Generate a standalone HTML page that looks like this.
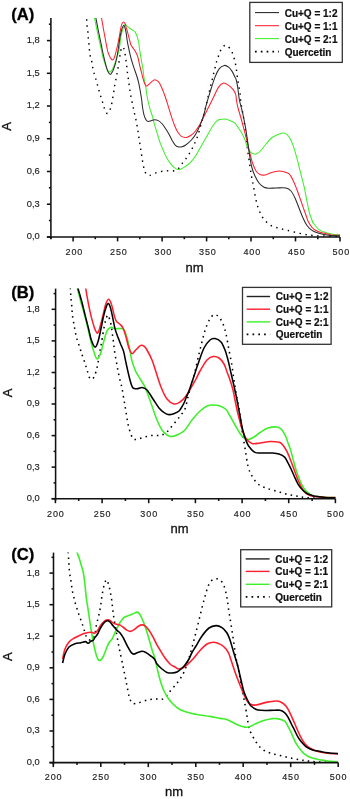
<!DOCTYPE html><html><head><meta charset="utf-8"><style>html,body{margin:0;padding:0;background:#fff;}svg{display:block;}text{font-family:"Liberation Sans", sans-serif;}svg{will-change:transform;}</style></head><body>
<svg width="350" height="799" viewBox="0 0 350 799">
<rect width="350" height="799" fill="#fff"/>
<clipPath id="cA"><rect x="50.9" y="18.0" width="290.2" height="218.9"/></clipPath>
<g clip-path="url(#cA)" fill="none" stroke-linejoin="round">
<path d="M86.5,15.0C86.5,15.8 86.6,18.2 86.7,20.0C86.8,21.8 86.9,24.0 87.1,26.0C87.3,28.0 87.7,30.0 87.9,32.0C88.1,34.0 88.1,35.9 88.3,37.9C88.5,39.9 88.7,41.9 88.9,43.9C89.1,45.9 89.2,47.7 89.4,49.7C89.6,51.7 89.8,53.8 90.2,55.7C90.6,57.6 91.3,59.1 91.7,61.0C92.1,62.9 92.2,65.0 92.6,67.0C93.0,69.0 93.5,71.1 94.0,73.0C94.5,74.9 95.1,76.6 95.7,78.6C96.3,80.5 96.9,82.7 97.4,84.7C98.0,86.7 98.5,88.8 99.0,90.7C99.5,92.7 100.1,94.5 100.7,96.4C101.3,98.4 102.0,100.5 102.6,102.4C103.2,104.3 103.5,106.2 104.3,108.0C105.0,109.8 106.2,113.0 107.1,113.5C108.0,114.0 108.9,112.1 109.5,111.0C110.1,109.9 110.5,108.3 110.9,107.0C111.3,105.7 111.6,104.6 111.9,102.9C112.2,101.2 112.6,99.0 112.9,97.0C113.2,95.0 113.6,93.0 113.9,91.0C114.2,89.0 114.4,87.3 114.7,85.3C115.0,83.3 115.6,81.0 116.0,79.1C116.4,77.1 116.7,75.5 117.0,73.6C117.3,71.7 117.8,69.5 118.1,67.6C118.4,65.7 118.7,63.9 119.0,62.0C119.3,60.1 119.6,57.9 119.9,56.0C120.2,54.1 120.4,52.0 120.8,50.5C121.2,49.0 122.0,47.4 122.5,47.0C123.0,46.6 123.3,47.0 123.7,48.1C124.1,49.2 124.6,51.8 125.0,53.7C125.4,55.6 125.6,57.7 125.9,59.7C126.2,61.7 126.5,63.8 126.7,65.7C126.9,67.7 127.1,69.5 127.3,71.4C127.5,73.3 127.8,75.1 128.1,77.0C128.4,78.9 128.6,81.0 128.9,83.0C129.2,85.0 129.4,86.9 129.7,88.9C130.0,90.9 130.2,93.0 130.6,95.0C131.0,97.0 131.5,99.0 131.9,101.0C132.3,103.0 132.7,104.9 133.1,106.9C133.5,108.9 134.0,111.0 134.4,112.9C134.8,114.8 135.3,116.5 135.7,118.4C136.1,120.3 136.4,122.4 136.8,124.4C137.2,126.4 137.6,128.2 137.9,130.2C138.2,132.2 138.4,134.2 138.7,136.2C139.0,138.2 139.3,140.0 139.6,142.0C139.9,144.0 140.2,146.1 140.5,148.0C140.8,149.9 141.1,151.6 141.4,153.5C141.7,155.4 142.0,157.6 142.3,159.6C142.6,161.6 143.0,163.6 143.4,165.6C143.8,167.6 144.3,170.1 144.9,171.6C145.5,173.1 146.2,173.8 147.0,174.5C147.8,175.2 148.3,175.7 149.5,175.5C150.7,175.3 152.5,174.2 154.3,173.5C156.1,172.8 158.4,172.0 160.3,171.6C162.2,171.2 164.1,170.9 166.0,170.8C167.9,170.7 170.1,171.2 172.0,171.0C173.9,170.8 175.9,170.7 177.7,169.3C179.5,168.0 181.1,164.9 182.6,162.9C184.1,160.9 185.6,159.3 186.9,157.4C188.2,155.5 189.6,153.4 190.7,151.4C191.8,149.4 192.7,147.6 193.6,145.7C194.5,143.8 195.3,141.9 196.1,140.0C196.9,138.1 197.7,136.0 198.3,134.0C199.0,132.0 199.4,130.1 200.0,128.1C200.6,126.1 201.1,124.0 201.7,122.1C202.3,120.1 202.9,118.8 203.6,116.4C204.2,114.0 204.9,110.5 205.6,107.5C206.3,104.5 207.0,101.0 207.6,98.6C208.2,96.2 208.5,94.9 209.0,92.9C209.5,91.0 209.9,88.9 210.4,86.9C210.9,84.9 211.4,83.0 211.9,81.0C212.4,79.0 212.8,77.0 213.3,75.0C213.8,73.0 214.2,71.2 214.7,69.3C215.2,67.3 215.6,65.2 216.1,63.3C216.6,61.4 217.2,59.8 217.9,57.9C218.6,56.0 219.1,53.6 220.0,51.7C220.9,49.8 222.4,47.5 223.3,46.5C224.2,45.5 224.8,45.6 225.5,45.5C226.2,45.4 226.7,45.2 227.6,46.0C228.5,46.8 230.1,48.7 231.1,50.3C232.1,51.9 232.7,53.8 233.3,55.7C234.0,57.6 234.5,59.7 235.0,61.7C235.5,63.7 235.8,65.6 236.1,67.6C236.4,69.6 236.7,71.6 236.9,73.6C237.2,75.5 237.3,77.4 237.6,79.3C237.9,81.2 238.3,83.1 238.6,85.0C238.9,86.9 239.3,88.8 239.6,90.7C239.9,92.7 240.2,94.7 240.4,96.7C240.6,98.8 240.6,101.0 240.9,103.0C241.2,105.0 241.7,106.7 242.0,108.6C242.3,110.5 242.6,112.4 242.9,114.3C243.2,116.2 243.6,118.2 243.9,120.2C244.2,122.2 244.6,124.3 244.9,126.3C245.2,128.3 245.3,130.1 245.5,132.0C245.7,133.9 246.1,136.1 246.3,138.0C246.5,139.9 246.7,141.7 246.9,143.6C247.1,145.5 247.2,147.6 247.5,149.6C247.8,151.6 248.1,153.6 248.4,155.6C248.7,157.6 249.0,159.8 249.3,161.8C249.6,163.8 249.9,165.6 250.2,167.5C250.5,169.4 250.7,171.3 251.0,173.2C251.3,175.1 251.6,177.1 252.0,179.0C252.4,180.9 252.5,181.3 253.2,184.8C253.9,188.3 255.0,195.8 256.0,200.0C257.0,204.2 257.8,207.0 259.0,210.0C260.2,213.0 261.2,215.5 263.0,218.0C264.8,220.5 267.5,223.3 270.0,225.0C272.5,226.7 275.3,227.2 278.0,228.0C280.7,228.8 283.0,229.3 286.0,230.0C289.0,230.7 292.7,231.6 296.0,232.4C299.3,233.2 302.7,234.1 306.0,234.6C309.3,235.1 312.3,235.4 316.0,235.7C319.7,236.0 324.0,236.1 328.0,236.2C332.0,236.3 338.0,236.4 340.0,236.4" stroke="#000" stroke-width="1.45" stroke-dasharray="1.45 4.55" stroke-dashoffset="1.70"/>
<path d="M94.0,15.0C94.1,15.7 94.0,15.7 94.7,19.0C95.4,22.3 96.9,29.8 98.0,35.0C99.1,40.2 100.6,46.2 101.4,50.0C102.2,53.8 102.4,55.3 103.1,57.7C103.8,60.1 104.6,62.6 105.3,64.6C106.0,66.6 106.6,68.5 107.4,69.7C108.2,70.9 109.1,72.0 110.0,71.9C110.9,71.8 111.8,70.4 112.6,68.9C113.4,67.4 114.3,65.0 115.1,62.9C115.9,60.8 116.6,58.1 117.3,56.0C118.0,53.9 118.5,52.0 119.0,50.0C119.5,48.0 119.7,46.4 120.0,44.0C120.3,41.6 120.5,38.3 121.1,35.6C121.6,32.9 122.6,29.8 123.3,27.9C124.0,26.0 124.4,24.7 125.0,24.4C125.6,24.1 126.3,25.5 127.1,26.1C127.9,26.8 128.8,27.7 129.7,28.3C130.6,28.9 131.4,29.4 132.3,30.0C133.2,30.6 134.3,31.1 134.9,31.7C135.5,32.4 135.7,33.0 136.1,33.9C136.5,34.8 137.0,35.9 137.4,37.3C137.8,38.7 138.4,40.8 138.7,42.4C139.0,44.0 139.0,45.0 139.3,47.0C139.6,49.0 140.0,52.1 140.4,54.6C140.8,57.1 141.3,59.9 141.7,62.3C142.1,64.7 142.6,66.4 143.0,69.1C143.4,71.8 143.6,75.6 144.1,78.7C144.6,81.8 145.3,84.7 145.9,87.9C146.5,91.1 146.7,94.5 147.4,98.0C148.1,101.5 149.1,105.5 149.9,108.6C150.7,111.6 151.6,113.6 152.4,116.3C153.2,119.0 153.7,121.8 154.6,124.9C155.5,128.0 156.7,131.8 157.7,135.0C158.7,138.2 159.5,141.2 160.6,144.1C161.7,146.9 162.9,149.6 164.0,152.1C165.1,154.6 166.2,157.0 167.4,159.0C168.6,161.0 169.8,162.7 170.9,164.1C172.1,165.5 173.2,166.7 174.3,167.6C175.4,168.5 176.6,169.3 177.7,169.5C178.8,169.7 179.9,169.4 181.0,169.0C182.1,168.6 182.8,168.1 184.3,167.1C185.8,166.1 188.1,164.8 190.0,162.9C191.9,161.0 193.8,158.6 195.7,155.7C197.6,152.8 199.5,149.0 201.4,145.7C203.3,142.4 205.2,139.0 207.1,135.7C209.0,132.4 211.2,128.2 212.9,125.7C214.6,123.2 215.9,121.7 217.1,120.7C218.3,119.7 218.7,119.8 220.0,119.5C221.3,119.2 223.2,118.8 225.0,119.0C226.8,119.2 229.3,120.3 231.0,121.0C232.7,121.7 233.8,122.1 235.0,123.2C236.2,124.3 237.2,126.3 238.3,127.8C239.4,129.3 240.3,130.6 241.3,132.3C242.3,134.1 243.3,135.9 244.3,138.3C245.3,140.7 246.3,144.3 247.3,146.6C248.3,148.9 249.3,150.7 250.3,151.9C251.3,153.1 252.4,153.5 253.3,153.8C254.2,154.2 254.9,154.4 256.0,154.0C257.1,153.6 258.3,153.2 260.0,151.5C261.7,149.8 264.0,146.3 266.0,144.0C268.0,141.7 270.0,139.1 272.0,137.5C274.0,135.9 276.0,135.2 278.0,134.4C280.0,133.7 282.4,132.9 284.0,133.0C285.6,133.1 286.5,133.9 287.6,135.1C288.7,136.2 289.8,138.0 290.8,139.9C291.8,141.8 292.6,144.0 293.4,146.3C294.2,148.6 294.9,151.2 295.6,153.7C296.3,156.2 297.0,158.5 297.7,161.2C298.4,163.9 299.1,166.9 299.8,169.7C300.5,172.5 301.2,175.4 301.9,178.2C302.6,181.0 303.4,183.5 304.1,186.7C304.8,189.9 305.6,194.1 306.2,197.3C306.8,200.5 307.3,203.3 307.9,206.0C308.5,208.7 308.8,210.8 309.6,213.5C310.4,216.2 312.3,221.0 312.9,222.5C313.4,224.0 311.9,221.4 312.9,222.5C313.8,223.6 316.5,227.6 318.6,229.3C320.7,231.0 323.1,231.7 325.7,232.6C328.3,233.5 331.9,234.1 334.3,234.5C336.7,234.9 339.1,234.8 340.0,234.8" stroke="#3ef02a" stroke-width="1.05"/>
<path d="M101.0,15.0C101.1,15.7 101.2,16.2 101.7,19.0C102.2,21.8 103.0,26.8 104.0,32.0C105.0,37.2 106.6,46.1 107.4,50.0C108.2,53.9 108.5,53.7 109.1,55.1C109.7,56.5 110.3,57.8 110.9,58.6C111.5,59.4 112.0,60.0 112.6,59.9C113.2,59.8 113.8,58.8 114.3,57.7C114.8,56.6 115.2,54.9 115.6,53.4C116.0,51.9 116.3,50.7 116.7,49.0C117.1,47.3 117.6,45.2 118.1,43.0C118.5,40.8 119.0,38.4 119.4,36.0C119.8,33.6 120.3,30.6 120.7,28.5C121.1,26.4 121.5,24.7 122.0,23.6C122.5,22.5 123.0,22.0 123.5,22.0C124.0,22.0 124.5,22.6 125.0,23.6C125.5,24.6 125.9,26.5 126.3,27.9C126.7,29.3 127.2,30.5 127.6,32.1C128.0,33.7 128.5,35.8 128.9,37.3C129.3,38.8 129.5,39.7 129.8,41.0C130.2,42.3 130.4,43.9 131.0,45.1C131.6,46.3 132.3,47.0 133.1,48.1C133.9,49.2 134.9,50.5 135.7,52.0C136.5,53.5 137.2,54.9 137.9,57.1C138.6,59.3 138.9,62.2 139.6,65.0C140.3,67.8 141.2,71.2 141.9,74.1C142.7,76.9 143.3,80.1 144.1,82.1C144.8,84.1 145.4,85.9 146.4,86.1C147.4,86.3 148.8,84.2 149.9,83.3C151.1,82.3 152.4,81.0 153.3,80.4C154.2,79.8 154.8,79.7 155.6,79.9C156.4,80.1 157.4,80.5 158.4,81.6C159.4,82.7 160.4,84.7 161.3,86.7C162.2,88.7 163.3,91.4 164.1,93.6C164.9,95.8 165.5,97.4 166.3,100.0C167.1,102.6 168.2,106.0 169.1,109.1C170.0,112.1 171.0,115.4 172.0,118.3C173.0,121.2 174.0,124.0 174.9,126.3C175.8,128.6 176.6,130.3 177.7,132.0C178.8,133.7 179.9,135.5 181.4,136.4C182.9,137.3 184.7,137.6 186.4,137.4C188.1,137.2 189.9,136.1 191.4,135.0C192.9,133.9 194.3,132.5 195.7,130.7C197.1,128.9 198.6,126.8 200.0,124.3C201.4,121.8 203.0,118.3 204.3,115.7C205.6,113.1 206.4,111.7 207.9,108.6C209.4,105.5 211.8,100.7 213.6,97.1C215.4,93.5 216.9,89.4 218.6,87.1C220.3,84.8 221.9,83.4 223.6,83.1C225.3,82.8 227.0,84.4 228.6,85.4C230.2,86.4 231.7,87.8 232.9,89.3C234.1,90.8 235.1,92.4 235.7,94.3C236.3,96.2 236.1,98.0 236.5,100.5C236.9,103.0 237.6,106.3 238.3,109.0C239.0,111.7 239.8,113.9 240.5,116.5C241.2,119.1 242.1,122.0 242.8,124.8C243.6,127.6 244.2,130.2 245.0,133.1C245.8,136.0 246.7,139.5 247.3,142.1C247.9,144.7 248.2,146.5 248.8,148.9C249.4,151.3 250.1,154.1 250.7,156.4C251.3,158.8 251.6,160.6 252.5,163.0C253.4,165.4 254.8,169.1 256.0,171.0C257.2,172.9 258.5,173.8 260.0,174.5C261.5,175.2 263.3,175.2 265.0,175.0C266.7,174.8 267.7,173.7 270.0,173.0C272.3,172.3 276.1,171.0 279.0,171.0C281.9,171.0 285.6,172.1 287.6,172.9C289.6,173.8 289.7,174.5 290.8,176.1C291.9,177.7 293.0,180.3 294.0,182.4C295.0,184.5 295.7,186.5 296.6,188.8C297.5,191.1 298.4,193.8 299.3,196.3C300.2,198.8 301.1,201.4 301.9,203.7C302.7,206.0 303.4,207.9 304.1,210.0C304.8,212.1 305.7,214.2 306.3,216.0C306.9,217.8 307.1,219.1 308.0,221.0C308.9,222.9 310.7,225.9 312.0,227.5C313.3,229.1 314.2,229.6 316.0,230.5C317.8,231.4 320.4,232.4 323.0,233.1C325.6,233.8 328.6,234.5 331.4,234.9C334.2,235.3 338.6,235.2 340.0,235.3" stroke="#ff1f2e" stroke-width="1.05"/>
<path d="M95.2,15.0C95.3,15.7 95.6,16.5 96.1,19.0C96.6,21.5 97.5,26.5 98.2,30.0C98.9,33.5 99.6,36.7 100.3,40.0C101.0,43.3 101.7,47.0 102.3,50.0C102.9,53.0 103.4,55.3 104.0,57.7C104.6,60.1 105.0,62.3 105.7,64.6C106.4,66.9 107.1,69.8 107.9,71.4C108.7,73.0 109.6,74.4 110.4,74.4C111.2,74.4 111.9,72.6 112.6,71.4C113.2,70.2 113.7,68.8 114.3,67.1C114.9,65.4 115.5,63.2 116.0,61.1C116.5,59.0 117.0,56.7 117.4,54.5C117.8,52.3 118.1,50.1 118.4,48.0C118.7,45.9 119.0,44.1 119.3,42.0C119.6,39.9 119.8,37.8 120.3,35.6C120.8,33.4 121.4,30.4 122.0,28.7C122.6,27.0 123.2,25.4 123.7,25.3C124.2,25.2 124.6,26.5 125.0,27.9C125.4,29.3 126.0,31.9 126.3,33.9C126.6,35.9 126.8,37.8 127.1,40.0C127.4,42.2 127.9,44.5 128.4,46.9C128.9,49.3 129.5,52.2 130.1,54.6C130.7,57.0 131.2,59.0 131.9,61.4C132.6,63.8 133.5,66.5 134.4,69.1C135.3,71.7 136.3,74.5 137.1,77.0C137.9,79.5 138.4,81.6 139.0,84.4C139.6,87.2 140.2,91.0 140.7,93.6C141.1,96.2 141.4,97.8 141.7,100.0C142.0,102.2 142.1,104.6 142.5,107.0C142.9,109.4 143.3,112.5 143.9,114.6C144.5,116.7 145.3,118.6 146.0,119.7C146.7,120.8 147.3,121.2 148.1,121.4C148.9,121.6 149.9,121.1 150.9,120.8C151.9,120.5 153.1,119.8 154.3,119.8C155.5,119.8 157.0,119.9 158.3,120.6C159.6,121.3 161.0,122.5 162.3,124.0C163.6,125.5 165.1,127.8 166.3,129.7C167.5,131.6 168.8,133.7 169.7,135.4C170.6,137.2 171.1,138.5 172.0,140.2C172.9,141.8 174.2,144.2 175.4,145.3C176.6,146.4 177.8,146.8 178.9,147.0C180.0,147.2 180.9,147.1 182.0,146.8C183.1,146.5 184.1,146.1 185.7,145.0C187.3,143.9 189.6,142.0 191.4,140.0C193.2,138.0 194.9,135.6 196.4,132.9C197.9,130.2 199.4,126.9 200.7,123.6C202.0,120.3 203.4,116.2 204.3,113.0C205.2,109.8 205.3,108.1 206.4,104.3C207.5,100.5 209.3,94.5 210.7,90.0C212.1,85.5 213.6,80.7 215.0,77.1C216.4,73.5 217.8,70.5 219.3,68.6C220.9,66.6 222.8,65.7 224.3,65.4C225.9,65.2 227.3,66.1 228.6,67.1C229.9,68.1 231.0,69.7 232.1,71.4C233.2,73.1 234.3,75.6 235.0,77.1C235.7,78.6 235.9,78.6 236.4,80.5C236.9,82.4 237.4,85.3 237.9,88.6C238.4,91.8 238.8,96.8 239.4,100.0C240.0,103.2 240.7,105.0 241.3,107.5C241.9,110.0 242.6,112.5 243.1,115.0C243.6,117.5 244.1,119.8 244.6,122.6C245.1,125.4 245.8,128.8 246.2,131.6C246.6,134.3 247.0,136.8 247.3,139.1C247.6,141.4 247.8,142.3 248.2,145.5C248.6,148.7 249.4,154.2 250.0,158.0C250.6,161.8 251.2,165.0 252.0,168.0C252.8,171.0 253.8,173.5 255.0,176.0C256.2,178.5 257.5,181.1 259.0,183.0C260.5,184.9 262.3,186.3 264.0,187.2C265.7,188.1 267.0,188.1 269.0,188.2C271.0,188.3 273.2,188.0 276.0,188.0C278.8,188.0 283.5,187.5 286.0,188.0C288.5,188.5 289.5,189.3 291.0,191.0C292.5,192.7 293.7,195.2 295.0,198.0C296.3,200.8 297.7,204.7 299.0,208.0C300.3,211.3 301.7,215.1 303.0,218.0C304.3,220.9 305.5,223.4 307.0,225.5C308.5,227.6 310.2,229.2 312.0,230.4C313.8,231.7 315.2,232.2 318.0,233.0C320.8,233.8 324.9,234.9 328.6,235.3C332.3,235.8 338.1,235.6 340.0,235.7" stroke="#2a2a2a" stroke-width="1.05"/>
</g>
<g stroke="#111" stroke-width="1.55" fill="none">
<path d="M50.9,18.0V238.9"/>
<path d="M46.9,236.9H340.0"/>
<path d="M46.9,236.9H50.9"/>
<path d="M46.9,204.2H50.9"/>
<path d="M46.9,171.5H50.9"/>
<path d="M46.9,138.7H50.9"/>
<path d="M46.9,106.0H50.9"/>
<path d="M46.9,73.3H50.9"/>
<path d="M46.9,40.6H50.9"/>
<path d="M48.9,220.5H50.9"/>
<path d="M48.9,187.8H50.9"/>
<path d="M48.9,155.1H50.9"/>
<path d="M48.9,122.4H50.9"/>
<path d="M48.9,89.7H50.9"/>
<path d="M48.9,57.0H50.9"/>
<path d="M48.9,24.2H50.9"/>
<path d="M50.9,236.9V239.2"/>
<path d="M73.1,236.9V241.4"/>
<path d="M95.3,236.9V239.2"/>
<path d="M117.6,236.9V241.4"/>
<path d="M139.8,236.9V239.2"/>
<path d="M162.1,236.9V241.4"/>
<path d="M184.3,236.9V239.2"/>
<path d="M206.6,236.9V241.4"/>
<path d="M228.8,236.9V239.2"/>
<path d="M251.0,236.9V241.4"/>
<path d="M273.3,236.9V239.2"/>
<path d="M295.5,236.9V241.4"/>
<path d="M317.8,236.9V239.2"/>
<path d="M340.0,236.9V241.4"/>
</g>
<g font-size="9" fill="#222" stroke="#222" stroke-width="0.15">
<text x="39.8" y="239.3" text-anchor="end" font-size="9.3">0,0</text>
<text x="39.8" y="206.6" text-anchor="end" font-size="9.3">0,3</text>
<text x="39.8" y="173.9" text-anchor="end" font-size="9.3">0,6</text>
<text x="39.8" y="141.1" text-anchor="end" font-size="9.3">0,9</text>
<text x="39.8" y="108.4" text-anchor="end" font-size="9.3">1,2</text>
<text x="39.8" y="75.7" text-anchor="end" font-size="9.3">1,5</text>
<text x="39.8" y="43.0" text-anchor="end" font-size="9.3">1,8</text>
<text x="74.4" y="254.6" text-anchor="middle" letter-spacing="0.9">200</text>
<text x="118.9" y="254.6" text-anchor="middle" letter-spacing="0.9">250</text>
<text x="163.4" y="254.6" text-anchor="middle" letter-spacing="0.9">300</text>
<text x="207.9" y="254.6" text-anchor="middle" letter-spacing="0.9">350</text>
<text x="252.3" y="254.6" text-anchor="middle" letter-spacing="0.9">400</text>
<text x="296.8" y="254.6" text-anchor="middle" letter-spacing="0.9">450</text>
<text x="341.3" y="254.6" text-anchor="middle" letter-spacing="0.9">500</text>
</g>
<text font-size="13" fill="#111" stroke="#111" stroke-width="0.3" text-anchor="middle" transform="translate(11.4,126.4) rotate(-90)">A</text>
<text font-size="13" fill="#111" stroke="#111" stroke-width="0.3" x="185.6" y="272.4">nm</text>
<text font-size="16.6" font-weight="bold" fill="#000" stroke="#000" stroke-width="0.3" x="11.3" y="20.3">(A)</text>
<rect x="249.8" y="2.4" width="92.5" height="60.0" fill="#fff" stroke="#333" stroke-width="1.3"/>
<path d="M255.0,12.6H279.0" stroke="#222" stroke-width="1.05" fill="none"/>
<text font-size="10" font-weight="bold" fill="#111" stroke="#111" stroke-width="0.22" x="284.7" y="16.5">Cu+Q = 1:2</text>
<path d="M255.0,25.7H279.0" stroke="#ff1f2e" stroke-width="1.05" fill="none"/>
<text font-size="10" font-weight="bold" fill="#111" stroke="#111" stroke-width="0.22" x="284.7" y="29.6">Cu+Q = 1:1</text>
<path d="M255.0,38.6H279.0" stroke="#3ef02a" stroke-width="1.05" fill="none"/>
<text font-size="10" font-weight="bold" fill="#111" stroke="#111" stroke-width="0.22" x="284.7" y="42.5">Cu+Q = 2:1</text>
<path d="M255.0,51.6H279.0" stroke="#000" stroke-width="1.7" stroke-dasharray="1.7 4.1" fill="none"/>
<text font-size="10" font-weight="bold" fill="#111" stroke="#111" stroke-width="0.22" x="284.7" y="55.5">Quercetin</text>
<clipPath id="cB"><rect x="55.6" y="288.6" width="280.7" height="210.1"/></clipPath>
<g clip-path="url(#cB)" fill="none" stroke-linejoin="round">
<path d="M70.2,285.0C70.2,285.6 70.2,287.1 70.3,288.6C70.4,290.2 70.6,292.4 70.7,294.3C70.8,296.2 70.9,298.1 71.1,299.9C71.3,301.7 71.5,303.4 71.7,305.3C71.9,307.2 71.9,309.1 72.1,311.0C72.2,312.9 72.3,314.8 72.6,316.7C72.8,318.6 73.3,320.5 73.6,322.4C73.9,324.3 74.2,326.2 74.6,328.1C74.9,330.0 75.3,332.0 75.7,333.9C76.1,335.8 76.6,337.8 77.1,339.6C77.6,341.4 78.3,343.1 78.9,344.9C79.5,346.7 80.1,348.7 80.7,350.6C81.3,352.5 81.9,354.4 82.6,356.3C83.2,358.2 84.0,360.1 84.6,362.0C85.2,363.9 85.8,365.8 86.4,367.7C87.0,369.6 87.4,371.3 88.0,373.1C88.6,374.9 89.2,377.5 90.0,378.5C90.8,379.5 91.8,379.3 92.5,379.0C93.2,378.7 93.7,377.7 94.3,376.5C94.9,375.3 95.5,373.4 96.0,371.7C96.5,369.9 97.0,368.1 97.4,366.0C97.8,363.9 98.2,361.5 98.6,359.0C99.0,356.5 99.5,353.6 100.0,351.0C100.5,348.4 100.9,346.3 101.4,343.5C101.9,340.7 102.4,336.9 102.9,334.0C103.4,331.1 103.8,328.7 104.3,326.4C104.8,324.1 105.1,321.9 105.7,320.0C106.3,318.1 107.2,314.9 107.9,315.0C108.6,315.1 109.4,318.8 110.0,320.7C110.6,322.6 111.1,324.5 111.4,326.4C111.8,328.3 111.8,330.2 112.1,332.1C112.3,334.0 112.7,336.0 112.9,337.9C113.2,339.8 113.4,341.8 113.6,343.6C113.8,345.4 114.1,347.1 114.3,348.9C114.5,350.7 114.7,352.7 115.0,354.6C115.3,356.5 115.8,358.5 116.1,360.3C116.4,362.1 116.8,363.9 117.1,365.7C117.4,367.5 117.7,369.5 118.1,371.4C118.5,373.3 118.9,375.2 119.3,377.1C119.7,379.0 120.2,381.0 120.7,382.9C121.2,384.8 121.5,385.8 122.1,388.6C122.6,391.5 123.3,396.1 124.0,400.0C124.7,403.9 125.3,408.0 126.0,412.0C126.7,416.0 127.2,420.2 128.0,424.0C128.8,427.8 130.0,431.9 131.0,434.5C132.0,437.1 132.7,438.6 134.0,439.3C135.3,440.0 137.2,439.2 139.0,438.8C140.8,438.4 143.0,437.5 145.0,437.0C147.0,436.5 149.0,435.8 151.0,435.6C153.0,435.4 155.2,435.7 157.0,435.6C158.8,435.5 160.3,435.6 162.0,435.0C163.7,434.4 165.3,433.5 167.0,432.0C168.7,430.5 170.3,428.0 172.0,426.0C173.7,424.0 175.5,421.8 177.0,420.0C178.5,418.2 179.7,416.8 181.0,415.0C182.3,413.2 183.8,412.0 185.0,409.0C186.2,406.0 187.0,400.8 188.0,397.0C189.0,393.2 190.0,389.5 191.0,386.0C192.0,382.5 192.7,381.3 194.0,376.0C195.3,370.7 197.3,361.0 199.0,354.0C200.7,347.0 202.7,338.8 204.0,334.0C205.3,329.2 206.0,327.5 207.0,325.0C208.0,322.5 208.8,320.7 210.0,319.0C211.2,317.3 212.5,314.9 214.0,314.6C215.5,314.3 217.5,315.4 219.0,317.0C220.5,318.6 221.8,321.2 223.0,324.0C224.2,326.8 225.0,329.7 226.0,334.0C227.0,338.3 228.0,344.7 229.0,350.0C230.0,355.3 231.2,361.0 232.0,366.0C232.8,371.0 233.3,375.5 234.0,380.0C234.7,384.5 235.2,388.3 236.0,393.0C236.8,397.7 238.0,401.8 239.0,408.0C240.0,414.2 241.0,423.3 242.0,430.0C243.0,436.7 244.0,442.0 245.0,448.0C246.0,454.0 246.8,461.3 248.0,466.0C249.2,470.7 250.3,473.0 252.0,476.0C253.7,479.0 255.7,482.0 258.0,484.0C260.3,486.0 263.0,486.8 266.0,488.0C269.0,489.2 272.7,490.0 276.0,491.0C279.3,492.0 282.7,493.2 286.0,494.0C289.3,494.8 292.7,495.4 296.0,496.0C299.3,496.6 302.0,497.2 306.0,497.6C310.0,498.0 315.1,498.1 320.0,498.2C324.9,498.3 332.8,498.4 335.4,498.5" stroke="#000" stroke-width="1.55" stroke-dasharray="1.55 4.15" stroke-dashoffset="2.90"/>
<path d="M76.4,284.0C76.6,284.7 76.6,285.2 77.3,288.1C78.0,291.1 79.6,297.3 80.8,301.7C82.0,306.1 83.2,310.1 84.4,314.6C85.6,319.1 86.9,324.4 88.0,328.9C89.1,333.4 90.0,337.7 91.0,341.7C92.0,345.7 93.3,350.2 94.3,353.1C95.3,356.0 96.1,359.0 97.2,359.0C98.3,359.0 99.6,355.9 100.7,353.1C101.8,350.3 102.5,345.7 103.6,342.0C104.7,338.3 105.9,333.1 107.1,330.7C108.3,328.3 109.4,327.8 110.7,327.4C112.0,327.0 113.5,328.4 115.0,328.6C116.5,328.8 118.6,328.5 120.0,328.6C121.4,328.7 122.5,328.1 123.6,329.3C124.7,330.5 125.5,332.7 126.4,335.7C127.4,338.7 128.4,342.8 129.3,347.1C130.2,351.4 131.0,357.3 132.1,361.4C133.2,365.4 134.4,368.5 135.7,371.4C137.0,374.3 138.6,376.2 140.0,378.6C141.4,381.0 143.1,383.5 144.3,385.7C145.5,387.9 145.7,388.6 147.0,392.0C148.3,395.4 150.3,401.3 152.0,406.0C153.7,410.7 155.3,416.0 157.0,420.0C158.7,424.0 160.3,427.5 162.0,430.0C163.7,432.5 165.3,433.9 167.0,435.0C168.7,436.1 170.0,436.8 172.0,436.6C174.0,436.4 176.8,435.1 179.0,434.0C181.2,432.9 182.8,432.3 185.0,430.0C187.2,427.7 189.5,423.2 192.0,420.0C194.5,416.8 197.5,413.3 200.0,411.0C202.5,408.7 204.8,407.0 207.0,406.0C209.2,405.0 210.8,405.0 213.0,405.0C215.2,405.0 217.8,405.2 220.0,406.0C222.2,406.8 224.3,407.8 226.0,409.5C227.7,411.2 228.5,413.4 230.0,416.0C231.5,418.6 233.3,422.1 235.0,425.0C236.7,427.9 238.5,431.3 240.0,433.5C241.5,435.7 242.7,437.0 244.0,438.0C245.3,439.0 246.3,439.8 248.0,439.6C249.7,439.4 252.0,438.2 254.0,437.0C256.0,435.8 257.7,434.0 260.0,432.5C262.3,431.0 265.2,428.9 268.0,428.0C270.8,427.1 274.7,426.7 277.0,427.0C279.3,427.3 280.5,428.2 282.0,430.0C283.5,431.8 285.3,435.5 286.2,437.5C287.1,439.5 286.9,440.1 287.6,442.0C288.3,443.9 289.4,446.2 290.3,449.1C291.2,452.0 292.2,456.0 293.1,459.4C294.1,462.8 295.0,466.6 296.0,469.7C297.0,472.8 297.8,475.0 298.9,477.7C299.9,480.4 301.1,483.4 302.3,485.7C303.5,488.0 304.9,489.9 306.3,491.4C307.7,492.9 309.2,494.0 310.9,494.9C312.6,495.8 314.4,496.2 316.6,496.6C318.8,497.0 320.9,497.1 324.0,497.2C327.1,497.3 333.5,497.4 335.4,497.4" stroke="#3ef02a" stroke-width="1.55"/>
<path d="M85.3,284.0C85.4,284.7 85.2,284.7 85.7,288.1C86.2,291.5 87.6,299.7 88.6,304.6C89.5,309.5 90.5,313.6 91.4,317.4C92.4,321.2 93.4,324.8 94.3,327.4C95.2,330.0 96.2,332.2 96.9,332.9C97.6,333.6 98.0,332.5 98.5,331.5C99.0,330.5 99.3,329.7 100.0,327.1C100.7,324.5 102.0,319.5 102.9,315.7C103.9,311.9 104.8,307.0 105.7,304.3C106.7,301.6 107.6,299.3 108.6,299.3C109.5,299.3 110.5,301.6 111.4,304.3C112.4,307.0 113.5,312.9 114.3,315.7C115.1,318.5 115.5,320.0 116.4,321.4C117.4,322.8 118.9,323.2 120.0,324.3C121.1,325.4 122.0,326.0 122.9,327.9C123.9,329.8 124.8,332.5 125.7,335.7C126.7,338.9 127.6,344.1 128.6,347.1C129.6,350.1 130.7,353.1 131.9,353.6C133.1,354.1 134.2,351.4 135.7,350.0C137.2,348.6 139.3,346.0 140.7,345.4C142.1,344.8 143.2,345.6 144.3,346.4C145.4,347.2 145.7,347.7 147.0,350.0C148.3,352.3 150.5,356.3 152.0,360.0C153.5,363.7 154.5,367.5 156.0,372.0C157.5,376.5 159.2,382.5 161.0,387.0C162.8,391.5 164.8,396.2 167.0,399.0C169.2,401.8 171.8,403.5 174.0,404.0C176.2,404.5 178.0,403.3 180.0,402.0C182.0,400.7 184.0,398.7 186.0,396.0C188.0,393.3 190.3,388.8 192.0,386.0C193.7,383.2 194.7,381.5 196.0,379.0C197.3,376.5 198.2,374.2 200.0,371.0C201.8,367.8 204.8,362.4 207.0,360.0C209.2,357.6 211.0,356.9 213.0,356.6C215.0,356.3 217.2,356.8 219.0,358.0C220.8,359.2 222.7,361.7 224.0,364.0C225.3,366.3 226.0,369.3 227.0,372.0C228.0,374.7 229.0,377.0 230.0,380.0C231.0,383.0 232.2,386.7 233.0,390.0C233.8,393.3 234.2,396.0 235.0,400.0C235.8,404.0 236.8,409.2 238.0,414.0C239.2,418.8 240.7,424.9 242.0,429.0C243.3,433.1 244.3,436.1 246.0,438.5C247.7,440.9 249.7,442.8 252.0,443.5C254.3,444.2 257.0,443.3 260.0,443.0C263.0,442.7 267.2,441.8 270.0,441.6C272.8,441.4 275.3,441.9 277.0,442.0C278.7,442.1 278.9,441.9 280.0,442.5C281.1,443.1 282.2,444.2 283.4,445.7C284.5,447.2 285.8,449.1 286.9,451.4C288.0,453.7 289.2,456.5 290.3,459.4C291.4,462.3 292.6,465.6 293.7,468.6C294.8,471.7 296.0,474.9 297.1,477.7C298.2,480.5 299.5,483.4 300.6,485.7C301.8,488.0 302.7,489.9 304.0,491.4C305.3,492.9 306.9,494.0 308.6,494.9C310.3,495.8 312.1,496.2 314.3,496.6C316.5,497.0 318.5,497.1 322.0,497.3C325.5,497.5 333.2,497.6 335.4,497.6" stroke="#ff1f2e" stroke-width="1.55"/>
<path d="M77.0,284.0C77.2,284.7 77.2,285.4 77.9,288.1C78.6,290.8 80.2,295.9 81.4,300.3C82.6,304.7 83.8,309.8 85.0,314.6C86.2,319.4 87.5,324.6 88.6,328.9C89.7,333.2 90.3,337.3 91.4,340.3C92.5,343.3 93.9,346.8 95.0,347.1C96.1,347.4 97.0,344.9 97.9,342.0C98.9,339.1 99.8,334.3 100.7,330.0C101.7,325.7 102.6,319.9 103.6,316.0C104.5,312.1 105.6,308.6 106.4,306.5C107.2,304.4 107.9,303.2 108.6,303.6C109.3,304.0 110.0,306.1 110.7,308.6C111.4,311.1 112.2,315.3 112.9,318.6C113.6,321.9 114.2,325.5 115.0,328.6C115.8,331.7 117.0,334.5 117.9,337.1C118.9,339.7 119.8,341.9 120.7,344.3C121.7,346.7 122.8,348.5 123.6,351.4C124.4,354.2 125.0,358.1 125.7,361.4C126.4,364.7 127.2,368.3 127.9,371.4C128.6,374.5 129.2,377.2 130.0,380.0C130.8,382.8 131.6,386.5 132.9,387.9C134.2,389.3 136.4,388.7 137.9,388.6C139.4,388.6 140.6,387.4 142.1,387.6C143.6,387.8 145.2,388.1 147.0,390.0C148.8,391.9 151.0,396.0 153.0,399.0C155.0,402.0 157.2,405.8 159.0,408.0C160.8,410.2 162.5,411.4 164.0,412.5C165.5,413.6 166.5,414.2 168.0,414.5C169.5,414.8 171.2,414.6 173.0,414.0C174.8,413.4 177.2,412.8 179.0,411.0C180.8,409.2 182.8,405.2 184.0,403.0C185.2,400.8 185.2,400.0 186.0,398.0C186.8,396.0 188.0,393.7 189.0,391.0C190.0,388.3 191.0,385.0 192.0,382.0C193.0,379.0 194.0,376.0 195.0,373.0C196.0,370.0 196.5,368.2 198.0,364.0C199.5,359.8 202.0,352.0 204.0,348.0C206.0,344.0 208.2,341.6 210.0,340.0C211.8,338.4 213.2,338.3 215.0,338.6C216.8,338.9 219.3,340.1 221.0,342.0C222.7,343.9 223.8,347.0 225.0,350.0C226.2,353.0 227.0,356.2 228.0,360.0C229.0,363.8 230.0,368.7 231.0,373.0C232.0,377.3 233.0,381.5 234.0,386.0C235.0,390.5 236.0,395.0 237.0,400.0C238.0,405.0 239.0,410.8 240.0,416.0C241.0,421.2 242.0,426.9 243.0,431.0C244.0,435.1 245.0,437.9 246.0,440.5C247.0,443.1 247.5,444.5 249.0,446.5C250.5,448.5 252.8,451.3 255.0,452.4C257.2,453.5 259.2,452.9 262.0,453.0C264.8,453.1 269.2,452.8 272.0,453.0C274.8,453.2 276.9,453.3 279.0,454.0C281.1,454.7 283.1,455.6 284.6,457.1C286.1,458.6 286.9,460.8 288.0,462.9C289.1,465.0 290.2,467.2 291.4,469.7C292.5,472.2 293.8,475.2 294.9,477.7C296.0,480.2 297.0,482.5 298.3,484.6C299.6,486.7 301.4,488.8 302.9,490.3C304.4,491.8 305.9,492.9 307.4,493.7C308.9,494.5 310.3,494.9 312.0,495.4C313.7,495.9 315.5,496.3 317.7,496.6C319.9,496.9 322.1,497.2 325.0,497.4C327.9,497.6 333.7,497.7 335.4,497.8" stroke="#000" stroke-width="1.55"/>
</g>
<g stroke="#111" stroke-width="1.55" fill="none">
<path d="M55.6,288.6V500.7"/>
<path d="M51.6,498.7H335.4"/>
<path d="M51.6,498.7H55.6"/>
<path d="M51.6,467.1H55.6"/>
<path d="M51.6,435.6H55.6"/>
<path d="M51.6,404.0H55.6"/>
<path d="M51.6,372.5H55.6"/>
<path d="M51.6,340.9H55.6"/>
<path d="M51.6,309.3H55.6"/>
<path d="M53.6,482.9H55.6"/>
<path d="M53.6,451.4H55.6"/>
<path d="M53.6,419.8H55.6"/>
<path d="M53.6,388.2H55.6"/>
<path d="M53.6,356.7H55.6"/>
<path d="M53.6,325.1H55.6"/>
<path d="M53.6,293.6H55.6"/>
<path d="M55.4,498.7V503.2"/>
<path d="M78.7,498.7V501.0"/>
<path d="M102.1,498.7V503.2"/>
<path d="M125.4,498.7V501.0"/>
<path d="M148.7,498.7V503.2"/>
<path d="M172.1,498.7V501.0"/>
<path d="M195.4,498.7V503.2"/>
<path d="M218.7,498.7V501.0"/>
<path d="M242.1,498.7V503.2"/>
<path d="M265.4,498.7V501.0"/>
<path d="M288.7,498.7V503.2"/>
<path d="M312.1,498.7V501.0"/>
<path d="M335.4,498.7V503.2"/>
</g>
<g font-size="9" fill="#222" stroke="#222" stroke-width="0.15">
<text x="39.8" y="501.1" text-anchor="end" font-size="9.3">0,0</text>
<text x="39.8" y="469.5" text-anchor="end" font-size="9.3">0,3</text>
<text x="39.8" y="438.0" text-anchor="end" font-size="9.3">0,6</text>
<text x="39.8" y="406.4" text-anchor="end" font-size="9.3">0,9</text>
<text x="39.8" y="374.9" text-anchor="end" font-size="9.3">1,2</text>
<text x="39.8" y="343.3" text-anchor="end" font-size="9.3">1,5</text>
<text x="39.8" y="311.7" text-anchor="end" font-size="9.3">1,8</text>
<text x="55.9" y="516.5" text-anchor="middle" letter-spacing="0.9">200</text>
<text x="102.6" y="516.5" text-anchor="middle" letter-spacing="0.9">250</text>
<text x="149.2" y="516.5" text-anchor="middle" letter-spacing="0.9">300</text>
<text x="195.9" y="516.5" text-anchor="middle" letter-spacing="0.9">350</text>
<text x="242.6" y="516.5" text-anchor="middle" letter-spacing="0.9">400</text>
<text x="289.2" y="516.5" text-anchor="middle" letter-spacing="0.9">450</text>
<text x="335.9" y="516.5" text-anchor="middle" letter-spacing="0.9">500</text>
</g>
<text font-size="13" fill="#111" stroke="#111" stroke-width="0.3" text-anchor="middle" transform="translate(11.7,392.9) rotate(-90)">A</text>
<text font-size="13" fill="#111" stroke="#111" stroke-width="0.3" x="170.6" y="533.0">nm</text>
<text font-size="16.6" font-weight="bold" fill="#000" stroke="#000" stroke-width="0.3" x="11.3" y="298.3">(B)</text>
<rect x="242.5" y="287.4" width="88.6" height="56.9" fill="#fff" stroke="#333" stroke-width="1.3"/>
<path d="M246.7,296.5H270.1" stroke="#222" stroke-width="1.40" fill="none"/>
<text font-size="10" font-weight="bold" fill="#111" stroke="#111" stroke-width="0.22" x="275.7" y="300.4">Cu+Q = 1:2</text>
<path d="M246.7,309.2H270.1" stroke="#ff1f2e" stroke-width="1.40" fill="none"/>
<text font-size="10" font-weight="bold" fill="#111" stroke="#111" stroke-width="0.22" x="275.7" y="313.1">Cu+Q = 1:1</text>
<path d="M246.7,321.9H270.1" stroke="#3ef02a" stroke-width="1.40" fill="none"/>
<text font-size="10" font-weight="bold" fill="#111" stroke="#111" stroke-width="0.22" x="275.7" y="325.8">Cu+Q = 2:1</text>
<path d="M246.7,334.3H270.1" stroke="#000" stroke-width="1.7" stroke-dasharray="1.7 4.1" fill="none"/>
<text font-size="10" font-weight="bold" fill="#111" stroke="#111" stroke-width="0.22" x="275.7" y="338.2">Quercetin</text>
<clipPath id="cC"><rect x="53.5" y="552.6" width="285.7" height="210.0"/></clipPath>
<g clip-path="url(#cC)" fill="none" stroke-linejoin="round">
<path d="M68.0,549.0C68.0,549.6 68.0,551.1 68.1,552.6C68.2,554.1 68.5,556.4 68.6,558.3C68.7,560.2 68.8,562.0 68.9,563.9C69.0,565.8 69.1,567.7 69.3,569.6C69.5,571.5 69.7,573.4 70.0,575.3C70.3,577.2 70.6,579.1 70.9,581.0C71.2,582.9 71.4,584.6 71.7,586.5C72.0,588.4 72.2,590.2 72.6,592.1C73.0,594.0 73.5,596.0 74.0,597.9C74.5,599.8 74.9,601.8 75.4,603.6C75.9,605.4 76.5,607.1 77.1,608.9C77.7,610.7 78.2,612.7 78.9,614.6C79.6,616.5 80.3,618.4 81.0,620.3C81.7,622.2 82.3,624.1 82.9,626.0C83.5,627.9 84.1,629.9 84.7,631.7C85.3,633.5 85.8,635.6 86.4,636.9C87.0,638.2 87.7,639.0 88.5,639.5C89.3,640.0 90.2,640.2 91.0,640.0C91.8,639.8 92.8,639.0 93.5,638.0C94.2,637.0 94.5,636.2 95.0,634.0C95.5,631.8 95.9,627.5 96.4,625.0C96.9,622.5 97.4,620.9 97.9,618.9C98.4,616.9 98.9,614.9 99.3,613.1C99.7,611.3 100.0,609.7 100.3,607.9C100.6,606.1 100.9,604.0 101.2,602.1C101.5,600.2 101.6,598.3 101.9,596.4C102.2,594.5 102.5,592.6 102.9,590.7C103.3,588.8 103.6,586.8 104.2,585.0C104.8,583.2 105.7,579.8 106.4,579.7C107.1,579.7 108.0,582.9 108.6,584.7C109.2,586.5 109.6,588.5 110.0,590.4C110.4,592.3 110.7,594.2 111.0,596.1C111.3,598.0 111.7,599.8 111.9,601.7C112.2,603.6 112.3,605.5 112.5,607.4C112.7,609.3 113.0,611.2 113.2,613.1C113.5,615.0 113.7,616.9 114.0,618.9C114.3,620.9 114.8,622.8 115.2,625.0C115.6,627.2 115.8,629.2 116.3,632.0C116.8,634.8 117.4,638.7 118.0,642.0C118.6,645.3 119.2,648.0 120.0,652.0C120.8,656.0 122.2,662.0 123.0,666.0C123.8,670.0 124.3,672.7 125.0,676.0C125.7,679.3 126.3,682.7 127.0,686.0C127.7,689.3 128.3,693.4 129.0,696.0C129.7,698.6 130.3,700.2 131.0,701.5C131.7,702.8 131.8,703.4 133.0,703.6C134.2,703.9 136.2,703.4 138.0,703.0C139.8,702.6 142.0,701.6 144.0,701.0C146.0,700.4 148.0,699.9 150.0,699.6C152.0,699.3 154.0,699.0 156.0,699.0C158.0,699.0 160.2,699.8 162.0,699.3C163.8,698.8 165.1,697.5 166.6,696.0C168.1,694.5 169.4,691.9 171.0,690.0C172.6,688.1 174.5,686.3 176.0,684.5C177.5,682.7 178.7,681.1 180.0,679.0C181.3,676.9 182.5,675.5 184.0,672.0C185.5,668.5 187.3,663.3 189.0,658.0C190.7,652.7 192.3,646.3 194.0,640.0C195.7,633.7 197.3,626.7 199.0,620.0C200.7,613.3 202.3,606.0 204.0,600.0C205.7,594.0 207.3,587.5 209.0,584.0C210.7,580.5 212.6,579.7 214.4,579.0C216.2,578.3 218.4,578.8 220.0,580.0C221.6,581.2 222.8,583.0 224.0,586.0C225.2,589.0 226.2,593.7 227.0,598.0C227.8,602.3 228.2,607.0 229.0,612.0C229.8,617.0 230.8,622.7 231.6,628.0C232.4,633.3 233.3,639.0 234.0,644.0C234.7,649.0 235.2,653.7 236.0,658.0C236.8,662.3 237.7,665.8 238.5,670.0C239.3,674.2 240.1,678.2 241.0,683.0C241.9,687.8 243.0,693.5 244.0,699.0C245.0,704.5 246.2,711.2 247.0,716.0C247.8,720.8 248.3,725.2 249.0,728.0C249.7,730.8 249.8,730.7 251.0,733.0C252.2,735.3 254.2,739.3 256.0,742.0C257.8,744.7 259.7,747.2 262.0,749.0C264.3,750.8 267.0,751.9 270.0,753.0C273.0,754.1 276.7,754.6 280.0,755.4C283.3,756.2 286.7,757.2 290.0,757.9C293.3,758.6 297.0,759.3 300.0,759.8C303.0,760.3 304.7,760.6 308.0,761.0C311.3,761.4 315.0,761.8 320.0,762.0C325.0,762.2 335.0,762.4 338.0,762.5" stroke="#000" stroke-width="1.55" stroke-dasharray="1.55 4.15" stroke-dashoffset="2.90"/>
<path d="M76.5,549.0C76.6,549.6 76.6,550.9 77.1,552.5C77.6,554.1 78.6,556.4 79.3,558.6C80.0,560.8 80.8,563.5 81.4,565.7C82.1,567.9 82.7,569.6 83.2,572.0C83.7,574.4 84.0,577.2 84.4,580.0C84.8,582.8 85.1,585.9 85.4,589.0C85.7,592.1 85.9,594.5 86.4,598.5C86.9,602.5 87.9,608.1 88.6,612.9C89.3,617.7 90.0,622.9 90.7,627.1C91.4,631.3 92.0,634.9 92.5,638.0C93.0,641.1 93.4,643.3 94.0,646.0C94.6,648.7 95.2,651.6 96.0,654.0C96.8,656.4 97.8,659.9 99.0,660.4C100.2,660.9 101.7,659.2 103.0,657.0C104.3,654.8 105.9,649.5 107.0,647.0C108.1,644.5 108.7,643.3 109.5,642.0C110.3,640.7 110.9,641.0 112.0,639.1C113.1,637.2 114.6,633.4 115.9,630.7C117.2,628.0 118.4,625.1 119.7,623.0C121.0,620.9 122.3,619.1 123.6,617.9C124.9,616.7 125.9,616.5 127.4,615.9C128.9,615.2 131.0,614.6 132.6,614.0C134.2,613.4 135.9,612.1 137.1,612.1C138.3,612.1 138.8,612.8 139.6,614.0C140.4,615.2 141.3,617.2 142.2,619.1C143.1,621.0 144.0,623.2 144.8,625.6C145.7,628.0 146.5,630.5 147.3,633.3C148.2,636.1 149.0,639.3 149.9,642.3C150.8,645.3 151.6,648.5 152.5,651.3C153.4,654.1 154.2,655.5 155.1,659.0C156.0,662.5 157.0,668.0 158.0,672.0C159.0,676.0 160.0,679.8 161.0,683.0C162.0,686.2 162.8,688.5 164.0,691.0C165.2,693.5 166.5,695.8 168.0,698.0C169.5,700.2 171.2,702.2 173.0,704.0C174.8,705.8 177.0,707.8 179.0,709.0C181.0,710.2 183.2,710.8 185.0,711.5C186.8,712.2 187.5,712.4 190.0,713.0C192.5,713.6 196.7,714.4 200.0,715.0C203.3,715.6 206.7,715.8 210.0,716.4C213.3,717.0 217.3,717.9 220.0,718.4C222.7,718.9 224.0,718.6 226.0,719.2C228.0,719.8 230.0,721.0 232.0,722.0C234.0,723.0 235.6,724.1 238.0,725.0C240.4,725.9 244.4,727.2 246.7,727.3C249.0,727.4 249.9,726.4 251.7,725.7C253.5,725.0 255.2,723.8 257.4,722.9C259.5,722.0 262.2,720.9 264.6,720.2C267.0,719.5 269.6,719.1 271.7,718.8C273.8,718.5 274.9,718.2 277.0,718.6C279.1,719.0 282.8,719.8 284.6,721.1C286.4,722.4 286.9,724.3 288.0,726.3C289.1,728.3 290.2,730.6 291.4,733.1C292.5,735.6 293.8,738.8 294.9,741.1C296.0,743.4 297.0,745.0 298.3,746.9C299.6,748.8 301.4,751.1 302.9,752.6C304.4,754.1 305.7,755.0 307.4,756.0C309.1,757.0 311.0,757.7 313.1,758.3C315.2,758.9 317.5,759.3 320.0,759.8C322.5,760.2 325.0,760.7 328.0,761.0C331.0,761.3 336.3,761.6 338.0,761.7" stroke="#3ef02a" stroke-width="1.60"/>
<path d="M62.6,659.0C63.0,657.3 63.9,651.8 65.0,649.0C66.1,646.2 67.5,643.8 69.0,642.0C70.5,640.2 72.5,639.1 74.3,638.0C76.1,636.9 78.2,636.0 80.0,635.2C81.8,634.4 83.1,633.7 85.0,633.2C86.9,632.7 89.8,632.2 91.4,632.2C93.0,632.2 93.6,633.5 94.6,633.2C95.6,632.9 96.7,631.8 97.6,630.6C98.5,629.5 99.2,627.6 100.1,626.3C100.9,625.0 101.8,623.9 102.7,622.9C103.6,621.9 104.4,621.0 105.3,620.5C106.2,620.0 107.1,619.9 107.9,619.9C108.8,619.9 109.6,620.2 110.4,620.7C111.2,621.2 112.1,622.3 113.0,622.9C113.9,623.5 114.8,623.8 115.6,624.1C116.4,624.4 117.4,624.6 118.1,624.7C118.8,624.8 118.8,624.4 119.7,624.9C120.6,625.4 122.4,626.6 123.6,627.5C124.8,628.4 125.6,629.5 126.8,630.1C128.0,630.8 129.3,631.5 130.6,631.4C131.9,631.3 133.2,630.3 134.5,629.4C135.8,628.5 137.0,627.0 138.3,626.2C139.6,625.5 141.0,624.9 142.2,624.9C143.4,624.9 144.2,625.2 145.4,626.2C146.6,627.2 148.0,628.9 149.3,630.7C150.6,632.5 151.9,635.0 153.1,637.1C154.3,639.2 155.2,641.5 156.3,643.6C157.5,645.8 158.6,647.6 160.0,650.0C161.4,652.4 163.3,655.7 165.0,658.0C166.7,660.3 168.3,662.5 170.0,664.0C171.7,665.5 173.5,666.2 175.0,667.0C176.5,667.8 177.3,669.1 179.0,669.0C180.7,668.9 182.7,668.2 185.0,666.5C187.3,664.8 190.5,661.7 193.0,659.0C195.5,656.3 197.7,653.0 200.0,650.5C202.3,648.0 204.7,645.4 207.0,644.0C209.3,642.6 211.7,642.1 214.0,642.2C216.3,642.3 219.0,643.5 221.0,644.6C223.0,645.7 224.7,647.4 226.0,649.0C227.3,650.6 228.2,652.2 229.0,654.0C229.8,655.8 230.0,657.0 231.0,660.0C232.0,663.0 233.8,668.7 235.0,672.0C236.2,675.3 236.8,677.0 238.0,680.0C239.2,683.0 240.7,686.8 242.0,690.0C243.3,693.2 244.7,696.7 246.0,699.0C247.3,701.3 248.3,703.0 250.0,704.0C251.7,705.0 253.3,705.3 256.0,705.0C258.7,704.7 262.7,703.1 266.0,702.4C269.3,701.7 273.7,701.1 276.0,701.0C278.3,700.9 278.6,701.1 280.0,701.7C281.4,702.3 283.3,703.4 284.6,704.6C285.9,705.8 286.9,707.2 288.0,709.1C289.1,711.0 290.2,713.5 291.4,716.0C292.5,718.5 293.8,721.3 294.9,724.0C296.0,726.7 297.2,729.5 298.3,732.0C299.4,734.5 300.6,736.9 301.7,738.9C302.8,740.9 303.8,742.5 305.1,744.0C306.4,745.5 308.2,747.0 309.7,748.0C311.2,749.0 312.6,749.6 314.3,750.3C316.0,751.0 317.7,751.5 320.0,752.0C322.3,752.5 325.0,753.0 328.0,753.3C331.0,753.6 336.3,753.9 338.0,754.0" stroke="#ff1f2e" stroke-width="1.60"/>
<path d="M62.6,663.0C63.0,661.5 63.9,656.7 65.0,654.0C66.1,651.3 67.3,648.7 69.0,647.0C70.7,645.3 73.0,644.5 75.0,643.8C77.0,643.1 79.2,643.1 80.9,642.7C82.6,642.3 84.2,641.5 85.4,641.6C86.6,641.7 87.4,643.4 88.3,643.3C89.2,643.2 89.8,641.7 90.6,641.2C91.4,640.7 92.2,641.1 92.9,640.5C93.6,639.9 94.2,638.5 95.0,637.4C95.8,636.3 96.8,635.4 97.6,634.0C98.4,632.6 99.2,630.5 100.1,628.9C100.9,627.3 101.8,625.8 102.7,624.6C103.6,623.4 104.4,622.2 105.3,621.6C106.2,621.0 107.1,620.6 107.9,620.7C108.7,620.8 109.3,621.4 110.0,622.0C110.7,622.6 111.3,623.7 112.1,624.6C112.9,625.5 113.8,626.6 114.7,627.6C115.6,628.6 116.5,629.8 117.3,630.6C118.1,631.4 118.8,631.5 119.7,632.6C120.6,633.7 121.9,635.5 122.9,637.1C123.9,638.7 124.6,640.6 125.5,642.3C126.4,644.0 127.1,645.7 128.1,647.4C129.1,649.1 130.3,651.5 131.3,652.6C132.3,653.7 132.8,654.1 133.9,654.1C135.0,654.1 136.3,653.1 137.7,652.6C139.1,652.1 140.8,651.3 142.2,651.3C143.6,651.3 144.7,651.9 146.1,652.6C147.5,653.4 149.2,654.7 150.6,655.8C152.0,656.9 153.3,657.6 154.4,659.0C155.5,660.4 155.7,662.3 157.0,664.0C158.3,665.7 160.3,667.6 162.0,669.0C163.7,670.4 165.3,671.7 167.0,672.4C168.7,673.1 170.3,673.1 172.0,673.0C173.7,672.9 175.5,672.7 177.0,672.0C178.5,671.3 179.7,670.2 181.0,669.0C182.3,667.8 183.7,666.7 185.0,665.0C186.3,663.3 187.8,661.1 189.0,659.0C190.2,656.9 190.8,654.7 192.0,652.5C193.2,650.3 194.3,648.8 196.0,646.0C197.7,643.2 199.8,639.0 202.0,636.0C204.2,633.0 206.7,629.7 209.0,628.0C211.3,626.3 213.8,625.7 216.0,625.6C218.2,625.5 220.2,626.4 222.0,627.6C223.8,628.8 225.7,630.9 227.0,633.0C228.3,635.1 229.0,637.2 230.0,640.0C231.0,642.8 232.0,646.7 233.0,650.0C234.0,653.3 235.2,657.2 236.0,660.0C236.8,662.8 237.2,663.7 238.0,667.0C238.8,670.3 240.0,675.8 241.0,680.0C242.0,684.2 242.8,688.5 244.0,692.0C245.2,695.5 246.8,698.7 248.0,701.0C249.2,703.3 249.3,704.5 251.0,706.0C252.7,707.5 254.8,709.3 258.0,710.0C261.2,710.7 266.3,710.4 270.0,710.4C273.7,710.4 277.6,709.9 280.0,710.3C282.4,710.7 283.3,711.5 284.6,712.6C285.9,713.7 286.9,715.2 288.0,717.1C289.1,719.0 290.2,721.7 291.4,724.0C292.5,726.3 293.8,728.6 294.9,730.9C296.0,733.2 297.2,735.8 298.3,737.7C299.4,739.6 300.4,740.8 301.7,742.3C303.0,743.8 304.6,745.7 306.3,746.9C308.0,748.1 309.7,749.0 312.0,749.7C314.3,750.5 317.3,750.9 320.0,751.4C322.7,751.9 325.0,752.4 328.0,752.7C331.0,753.1 336.3,753.4 338.0,753.5" stroke="#000" stroke-width="1.60"/>
</g>
<g stroke="#111" stroke-width="1.55" fill="none">
<path d="M53.5,552.6V764.6"/>
<path d="M49.5,762.6H338.2"/>
<path d="M49.5,762.6H53.5"/>
<path d="M49.5,731.0H53.5"/>
<path d="M49.5,699.4H53.5"/>
<path d="M49.5,667.8H53.5"/>
<path d="M49.5,636.2H53.5"/>
<path d="M49.5,604.7H53.5"/>
<path d="M49.5,573.1H53.5"/>
<path d="M51.5,746.8H53.5"/>
<path d="M51.5,715.2H53.5"/>
<path d="M51.5,683.6H53.5"/>
<path d="M51.5,652.0H53.5"/>
<path d="M51.5,620.4H53.5"/>
<path d="M51.5,588.9H53.5"/>
<path d="M51.5,557.3H53.5"/>
<path d="M53.3,762.6V767.1"/>
<path d="M77.0,762.6V764.9"/>
<path d="M100.8,762.6V767.1"/>
<path d="M124.5,762.6V764.9"/>
<path d="M148.3,762.6V767.1"/>
<path d="M172.0,762.6V764.9"/>
<path d="M195.8,762.6V767.1"/>
<path d="M219.5,762.6V764.9"/>
<path d="M243.2,762.6V767.1"/>
<path d="M267.0,762.6V764.9"/>
<path d="M290.7,762.6V767.1"/>
<path d="M314.5,762.6V764.9"/>
<path d="M338.2,762.6V767.1"/>
</g>
<g font-size="9" fill="#222" stroke="#222" stroke-width="0.15">
<text x="39.8" y="765.0" text-anchor="end" font-size="9.3">0,0</text>
<text x="39.8" y="733.4" text-anchor="end" font-size="9.3">0,3</text>
<text x="39.8" y="701.8" text-anchor="end" font-size="9.3">0,6</text>
<text x="39.8" y="670.2" text-anchor="end" font-size="9.3">0,9</text>
<text x="39.8" y="638.6" text-anchor="end" font-size="9.3">1,2</text>
<text x="39.8" y="607.1" text-anchor="end" font-size="9.3">1,5</text>
<text x="39.8" y="575.5" text-anchor="end" font-size="9.3">1,8</text>
<text x="53.6" y="779.5" text-anchor="middle" letter-spacing="0.9">200</text>
<text x="101.1" y="779.5" text-anchor="middle" letter-spacing="0.9">250</text>
<text x="148.6" y="779.5" text-anchor="middle" letter-spacing="0.9">300</text>
<text x="196.1" y="779.5" text-anchor="middle" letter-spacing="0.9">350</text>
<text x="243.5" y="779.5" text-anchor="middle" letter-spacing="0.9">400</text>
<text x="291.0" y="779.5" text-anchor="middle" letter-spacing="0.9">450</text>
<text x="338.5" y="779.5" text-anchor="middle" letter-spacing="0.9">500</text>
</g>
<text font-size="13" fill="#111" stroke="#111" stroke-width="0.3" text-anchor="middle" transform="translate(11.7,656.6) rotate(-90)">A</text>
<text font-size="13" fill="#111" stroke="#111" stroke-width="0.3" x="165.0" y="796.0">nm</text>
<text font-size="16.6" font-weight="bold" fill="#000" stroke="#000" stroke-width="0.3" x="11.3" y="559.9">(C)</text>
<rect x="240.7" y="549.7" width="91.0" height="57.2" fill="#fff" stroke="#333" stroke-width="1.3"/>
<path d="M245.7,558.9H269.6" stroke="#222" stroke-width="1.40" fill="none"/>
<text font-size="10" font-weight="bold" fill="#111" stroke="#111" stroke-width="0.22" x="275.3" y="562.8">Cu+Q = 1:2</text>
<path d="M245.7,571.4H269.6" stroke="#ff1f2e" stroke-width="1.40" fill="none"/>
<text font-size="10" font-weight="bold" fill="#111" stroke="#111" stroke-width="0.22" x="275.3" y="575.3">Cu+Q = 1:1</text>
<path d="M245.7,584.3H269.6" stroke="#3ef02a" stroke-width="1.40" fill="none"/>
<text font-size="10" font-weight="bold" fill="#111" stroke="#111" stroke-width="0.22" x="275.3" y="588.2">Cu+Q = 2:1</text>
<path d="M245.7,596.9H269.6" stroke="#000" stroke-width="1.7" stroke-dasharray="1.7 4.1" fill="none"/>
<text font-size="10" font-weight="bold" fill="#111" stroke="#111" stroke-width="0.22" x="275.3" y="600.8">Quercetin</text>
</svg></body></html>
